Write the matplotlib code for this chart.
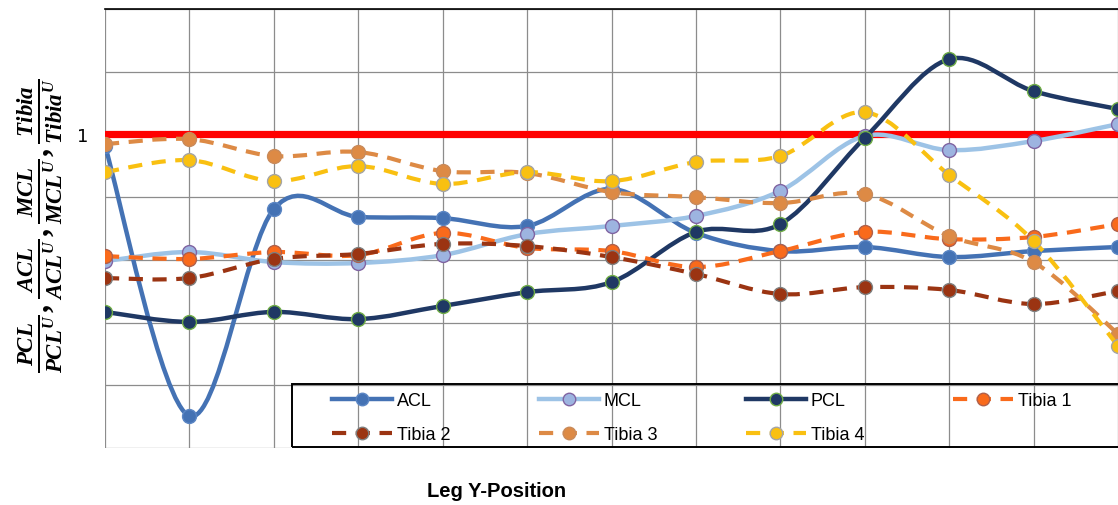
import numpy as np
import matplotlib
matplotlib.use("Agg")
import matplotlib.pyplot as plt
from matplotlib.path import Path
from matplotlib.patches import PathPatch, Rectangle
from matplotlib.lines import Line2D
from matplotlib.ticker import FuncFormatter

plt.rcParams["mathtext.fontset"] = "custom"
plt.rcParams["mathtext.it"] = "Liberation Serif:italic:bold"
plt.rcParams["mathtext.rm"] = "Liberation Serif:bold"
plt.rcParams["mathtext.bf"] = "Liberation Serif:bold"

# Leg Y-position steps (13 evenly spaced positions, last one at the cut-off edge)
positions = np.arange(13)

# normalised values (1 = upright reference)
acl = [0.963, 0.102, 0.762, 0.737, 0.733, 0.708, 0.826, 0.686, 0.628, 0.641, 0.609, 0.628, 0.641]
mcl = [0.596, 0.625, 0.593, 0.590, 0.615, 0.682, 0.708, 0.740, 0.820, 0.995, 0.950, 0.979, 1.033]
pcl = [0.434, 0.402, 0.434, 0.411, 0.453, 0.497, 0.529, 0.689, 0.714, 0.989, 1.240, 1.138, 1.081]
tibia1 = [0.612, 0.603, 0.625, 0.615, 0.686, 0.638, 0.628, 0.577, 0.628, 0.689, 0.666, 0.673, 0.714]
tibia2 = [0.542, 0.542, 0.603, 0.619, 0.651, 0.644, 0.609, 0.555, 0.491, 0.513, 0.504, 0.459, 0.501]
tibia3 = [0.969, 0.985, 0.931, 0.944, 0.883, 0.877, 0.816, 0.800, 0.781, 0.810, 0.676, 0.593, 0.364]
tibia4 = [0.880, 0.918, 0.851, 0.899, 0.842, 0.880, 0.851, 0.912, 0.931, 1.071, 0.871, 0.660, 0.325]

reference_level = 1.0

# (label, values, line colour, marker face, marker edge, dashed)
series = [
    ("ACL", acl, "#4472B4", "#4472B4", "#5B86C4", False),
    ("MCL", mcl, "#9DC3E6", "#9DB4E0", "#8064A2", False),
    ("PCL", pcl, "#1F3864", "#1F3864", "#70AD47", False),
    ("Tibia 1", tibia1, "#F96A1B", "#F96A1B", "#B0604A", True),
    ("Tibia 2", tibia2, "#9B3412", "#9B3412", "#7F7F7F", True),
    ("Tibia 3", tibia3, "#DD8A45", "#DD8A45", "#C98A5A", True),
    ("Tibia 4", tibia4, "#F9C011", "#F9C011", "#A5A5A5", True),
]


def smooth_path(x, y):
    """Excel-style smoothed line as cubic Bezier segments through the points."""
    pts = np.column_stack([x, y]).astype(float)
    n = len(pts)
    verts = [pts[0]]
    codes = [Path.MOVETO]
    for i in range(n - 1):
        p0 = pts[max(i - 1, 0)]
        p1 = pts[i]
        p2 = pts[i + 1]
        p3 = pts[min(i + 2, n - 1)]
        c1 = p1 + (p2 - p0) / 6.0
        c2 = p2 - (p3 - p1) / 6.0
        verts += [c1, c2, p2]
        codes += [Path.CURVE4] * 3
    return Path(verts, codes)


fig = plt.figure(figsize=(11.18, 5.06), dpi=100)
W, H = 1118, 506
ax = fig.add_axes([105 / W, 1 - 449 / H, 1 - 105 / W, 439 / H])
ax.set_xlim(0, 12)
ax.set_ylim(0, 1.4)

ax.set_xticks(positions)
ax.set_yticks(np.arange(0, 1.41, 0.2))
ax.grid(True, color="#8C8C8C", linewidth=0.9, zorder=0)
ax.set_axisbelow(True)
ax.tick_params(length=0, labelbottom=False, labelsize=13, pad=12)
ax.yaxis.set_major_formatter(FuncFormatter(lambda v, p: "1" if abs(v - 1) < 1e-6 else ""))
for s in ["left", "right", "bottom"]:
    ax.spines[s].set_visible(False)
ax.spines["top"].set_color("black")
ax.spines["top"].set_linewidth(1.2)

ax.axhline(reference_level, color="#FF0000", linewidth=5.2, zorder=1.5)

handles = {}
for k, (label, vals, lc, mfc, mec, dashed) in enumerate(series):
    ls = (0, (3.4, 2.3)) if dashed else "-"
    lw = 3.0 if dashed else 3.2
    patch = PathPatch(smooth_path(positions, vals), fill=False, edgecolor=lc,
                      linewidth=lw, linestyle=ls, capstyle="butt",
                      joinstyle="round", zorder=2 + k * 0.1)
    ax.add_patch(patch)
    ax.plot(positions, vals, linestyle="none", marker="o", markersize=10,
            markerfacecolor=mfc, markeredgecolor=mec, markeredgewidth=1.0,
            zorder=2.05 + k * 0.1)
    handles[label] = Line2D([], [], color=lc, linewidth=lw, linestyle=ls,
                            marker="o", markersize=9, markerfacecolor=mfc,
                            markeredgecolor=mec, markeredgewidth=1.0)

# legend: transparent, entries laid out row by row, square black frame
order = ["ACL", "Tibia 2", "MCL", "Tibia 3", "PCL", "Tibia 4", "Tibia 1"]
leg = fig.legend([handles[o] for o in order], order, ncol=4, loc="upper left",
                 bbox_to_anchor=(332 / W, 1 - 393 / H), frameon=False,
                 prop={"family": "Liberation Sans", "size": 13},
                 borderpad=0, borderaxespad=0, handlelength=3.3,
                 handletextpad=0.3, columnspacing=4.9, labelspacing=0.95)
frame = Rectangle((292 / W, 1 - 448 / H), (1130 - 292) / W, 63 / H,
                  transform=fig.transFigure, facecolor="none",
                  edgecolor="black", linewidth=1.4)
fig.patches.append(frame)

ylab = (r"$\frac{PCL}{PCL^U},\frac{ACL}{ACL^U},"
        r"\frac{MCL}{MCL^U},\frac{Tibia}{Tibia^U}$")
fig.text(40 / W, 1 - 226 / H, ylab, rotation=90, ha="center", va="center",
         fontsize=23.5)
fig.text(497 / W, 1 - 492 / H, "Leg Y-Position", ha="center", va="center",
         fontsize=14.5, fontweight="bold", family="Liberation Sans")

fig.savefig("out.png", dpi=100)
